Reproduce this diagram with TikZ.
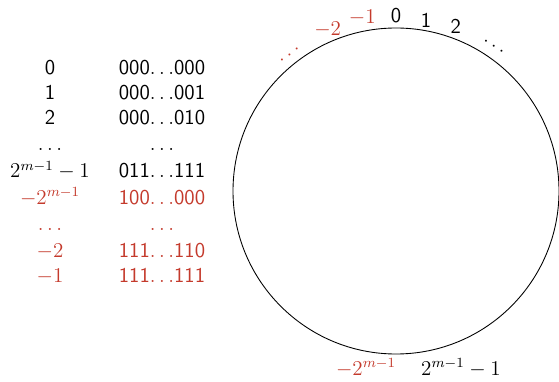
\documentclass[tikz,border=0pt]{standalone}
\usepackage{amsmath}
\usepackage{tikz}
\usetikzlibrary{positioning}
\definecolor{negred}{RGB}{196,58,44}

\begin{document}
\begin{tikzpicture}[
    font=\large,
    line width=0.5pt,
    row/.style={anchor=base, inner sep=0pt},
    posrow/.style={row, font=\large\sffamily},
    negrow/.style={row, text=negred},
    rimval/.style={inner sep=0pt},
    negrim/.style={rimval, text=negred}
]
\useasboundingbox (0,0) rectangle (11.18,7.62);

% table of values and their bit patterns
\node[posrow] (v0) at (1.0,6.12) {0};
\node[posrow] (b0) at (3.24,6.12) {000$\ldots$000};
\node[posrow] (v1) at (1.0,5.63) {1};
\node[posrow] (b1) at (3.24,5.63) {000$\ldots$001};
\node[posrow] (v2) at (1.0,5.12) {2};
\node[posrow] (b2) at (3.24,5.12) {000$\ldots$010};
\node[row] (vdots) at (1.0,4.60) {$\ldots$};
\node[row] (bdots) at (3.24,4.60) {$\ldots$};
\node[row] (vmax) at (1.0,4.06) {$2^{m-1}-1$};
\node[posrow] (bmax) at (3.24,4.06) {011$\ldots$111};
\node[negrow] (vmin) at (1.0,3.54) {$-2^{m-1}$};
\node[negrow, font=\large\sffamily] (bmin) at (3.24,3.54) {100$\ldots$000};
\node[negrow] (ndots) at (1.0,3.02) {$\ldots$};
\node[negrow] (nbdots) at (3.24,3.02) {$\ldots$};
\node[negrow] (vm2) at (1.0,2.48) {$-2$};
\node[negrow, font=\large\sffamily] (bm2) at (3.24,2.48) {111$\ldots$110};
\node[negrow] (vm1) at (1.0,1.98) {$-1$};
\node[negrow, font=\large\sffamily] (bm1) at (3.24,1.98) {111$\ldots$111};

% the circle of residues
\coordinate (c) at (7.92,3.80);
\draw (c) circle (3.26);

\node[rimval, font=\large\sffamily] (t0) at ([shift={(90:3.51)}]c) {0};
\node[rimval, font=\large\sffamily] (t1) at ([shift={(80:3.46)}]c) {1};
\node[rimval, font=\large\sffamily] (t2) at ([shift={(70:3.50)}]c) {2};
\node[rimval, rotate=-33] (tdots) at ([shift={(56:3.50)}]c) {$\ldots$};
\node[negrim] (tm1) at ([shift={(101:3.54)}]c) {$-1$};
\node[negrim] (tm2) at ([shift={(113:3.50)}]c) {$-2$};
\node[negrim, rotate=37] (tndots) at ([shift={(128:3.46)}]c) {$\ldots$};

\node[negrim] (tmin) at ([shift={(-0.60,-3.54)}]c) {$-2^{m-1}$};
\node[rimval] (tmax) at ([shift={(1.30,-3.54)}]c) {$2^{m-1}-1$};
\end{tikzpicture}
\end{document}
